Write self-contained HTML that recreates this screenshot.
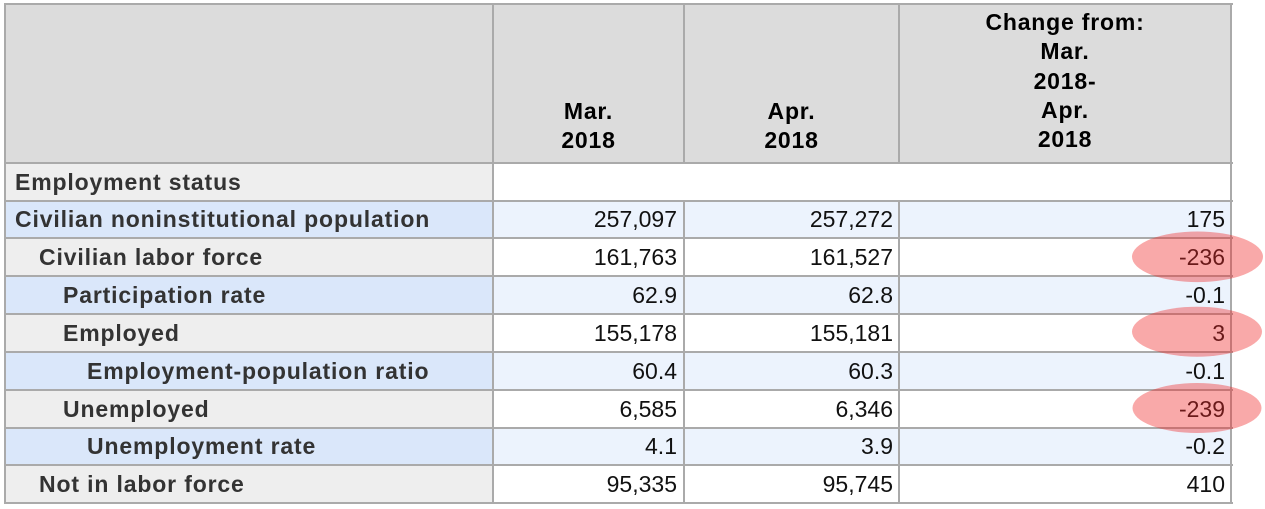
<!DOCTYPE html>
<html><head><meta charset="utf-8"><style>
html,body{margin:0;padding:0;}
body{width:1265px;height:509px;position:relative;background:#fff;overflow:hidden;font-family:"Liberation Sans",Arial,sans-serif;}
.a{position:absolute;}
.bg{position:absolute;}
.hl{position:absolute;height:2px;background:#aaaaaa;}
.vl{position:absolute;width:2px;background:#aaaaaa;}
.lb{position:absolute;height:37.8px;line-height:37.8px;font-size:23px;font-weight:bold;color:#333;letter-spacing:0.85px;white-space:nowrap;margin-top:1.5px;}
.nm{position:absolute;height:37.8px;line-height:37.8px;font-size:23px;color:#111;text-align:right;white-space:nowrap;margin-top:1.5px;}
.hd{position:absolute;font-size:23px;font-weight:bold;color:#000;line-height:29.3px;text-align:center;letter-spacing:0.8px;white-space:nowrap;}
</style></head><body>

<div class="bg" style="left:4px;top:4px;width:1227px;height:159px;background:#dcdcdc"></div>

<div class="bg" style="left:5px;top:162.7px;width:488px;height:37.8px;background:#eeeeee"></div>
<div class="bg" style="left:5px;top:200.5px;width:488px;height:37.9px;background:#dae7fa"></div>
<div class="bg" style="left:493px;top:200.5px;width:738px;height:37.9px;background:#ecf3fd"></div>
<div class="bg" style="left:5px;top:238.4px;width:488px;height:37.8px;background:#eeeeee"></div>
<div class="bg" style="left:5px;top:276.2px;width:488px;height:37.9px;background:#dae7fa"></div>
<div class="bg" style="left:493px;top:276.2px;width:738px;height:37.9px;background:#ecf3fd"></div>
<div class="bg" style="left:5px;top:314.1px;width:488px;height:37.8px;background:#eeeeee"></div>
<div class="bg" style="left:5px;top:351.9px;width:488px;height:37.8px;background:#dae7fa"></div>
<div class="bg" style="left:493px;top:351.9px;width:738px;height:37.8px;background:#ecf3fd"></div>
<div class="bg" style="left:5px;top:389.7px;width:488px;height:37.9px;background:#eeeeee"></div>
<div class="bg" style="left:5px;top:427.6px;width:488px;height:37.8px;background:#dae7fa"></div>
<div class="bg" style="left:493px;top:427.6px;width:738px;height:37.8px;background:#ecf3fd"></div>
<div class="bg" style="left:5px;top:465.4px;width:488px;height:37.9px;background:#eeeeee"></div>

<div class="hd" style="left:899px;width:332px;top:8.1px">Change from:<br>Mar.<br>2018-<br>Apr.<br>2018</div>
<div class="hd" style="left:493px;width:191px;top:96.5px">Mar.<br>2018</div>
<div class="hd" style="left:684px;width:215px;top:96.5px">Apr.<br>2018</div>

<div class="lb" style="left:15px;top:162.0px">Employment status</div>
<div class="lb" style="left:15px;top:199.8px">Civilian noninstitutional population</div>
<div class="lb" style="left:39px;top:237.7px">Civilian labor force</div>
<div class="lb" style="left:63px;top:275.5px">Participation rate</div>
<div class="lb" style="left:63px;top:313.4px">Employed</div>
<div class="lb" style="left:87px;top:351.2px">Employment-population ratio</div>
<div class="lb" style="left:63px;top:389.0px">Unemployed</div>
<div class="lb" style="left:87px;top:426.9px">Unemployment rate</div>
<div class="lb" style="left:39px;top:464.7px">Not in labor force</div>

<div class="nm" style="left:493px;width:184px;top:199.8px">257,097</div>
<div class="nm" style="left:493px;width:184px;top:237.7px">161,763</div>
<div class="nm" style="left:493px;width:184px;top:275.5px">62.9</div>
<div class="nm" style="left:493px;width:184px;top:313.4px">155,178</div>
<div class="nm" style="left:493px;width:184px;top:351.2px">60.4</div>
<div class="nm" style="left:493px;width:184px;top:389.0px">6,585</div>
<div class="nm" style="left:493px;width:184px;top:426.9px">4.1</div>
<div class="nm" style="left:493px;width:184px;top:464.7px">95,335</div>
<div class="nm" style="left:684px;width:209px;top:199.8px">257,272</div>
<div class="nm" style="left:684px;width:209px;top:237.7px">161,527</div>
<div class="nm" style="left:684px;width:209px;top:275.5px">62.8</div>
<div class="nm" style="left:684px;width:209px;top:313.4px">155,181</div>
<div class="nm" style="left:684px;width:209px;top:351.2px">60.3</div>
<div class="nm" style="left:684px;width:209px;top:389.0px">6,346</div>
<div class="nm" style="left:684px;width:209px;top:426.9px">3.9</div>
<div class="nm" style="left:684px;width:209px;top:464.7px">95,745</div>
<div class="nm" style="left:899px;width:326px;top:199.8px">175</div>
<div class="nm" style="left:899px;width:326px;top:237.7px">-236</div>
<div class="nm" style="left:899px;width:326px;top:275.5px">-0.1</div>
<div class="nm" style="left:899px;width:326px;top:313.4px">3</div>
<div class="nm" style="left:899px;width:326px;top:351.2px">-0.1</div>
<div class="nm" style="left:899px;width:326px;top:389.0px">-239</div>
<div class="nm" style="left:899px;width:326px;top:426.9px">-0.2</div>
<div class="nm" style="left:899px;width:326px;top:464.7px">410</div>

<div class="hl" style="left:3.5px;width:1229px;top:3px"></div>
<div class="hl" style="left:3.5px;width:1229px;top:161.7px"></div>
<div class="hl" style="left:3.5px;width:1229px;top:199.5px"></div>
<div class="hl" style="left:3.5px;width:1229px;top:237.4px"></div>
<div class="hl" style="left:3.5px;width:1229px;top:275.2px"></div>
<div class="hl" style="left:3.5px;width:1229px;top:313.1px"></div>
<div class="hl" style="left:3.5px;width:1229px;top:350.9px"></div>
<div class="hl" style="left:3.5px;width:1229px;top:388.7px"></div>
<div class="hl" style="left:3.5px;width:1229px;top:426.6px"></div>
<div class="hl" style="left:3.5px;width:1229px;top:464.4px"></div>
<div class="hl" style="left:3.5px;width:1229px;top:502.3px"></div>

<div class="vl" style="left:3.5px;top:3px;height:501.3px"></div>
<div class="vl" style="left:492px;top:3px;height:501.3px"></div>
<div class="vl" style="left:682.5px;top:3px;height:160.7px"></div>
<div class="vl" style="left:682.5px;top:199.5px;height:304.8px"></div>
<div class="vl" style="left:898px;top:3px;height:160.7px"></div>
<div class="vl" style="left:898px;top:199.5px;height:304.8px"></div>
<div class="vl" style="left:1230px;top:3px;height:501.3px"></div>

<svg class="a" style="left:0;top:0" width="1265" height="509" viewBox="0 0 1265 509">
<ellipse cx="1197.5" cy="256.8" rx="65.5" ry="25.3" fill="rgb(240,40,40)" fill-opacity="0.4"/>
<ellipse cx="1197" cy="331.7" rx="65" ry="25" fill="rgb(240,40,40)" fill-opacity="0.4"/>
<ellipse cx="1197" cy="408" rx="64.5" ry="25" fill="rgb(240,40,40)" fill-opacity="0.4"/>
</svg>

</body></html>
